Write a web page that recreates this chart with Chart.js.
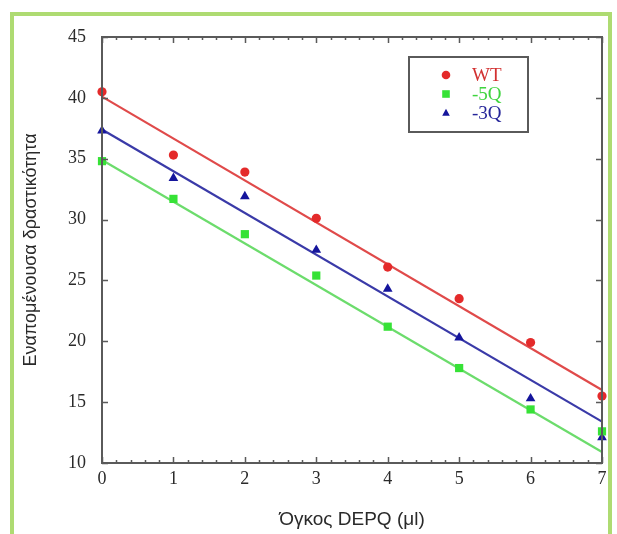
<!DOCTYPE html>
<html><head><meta charset="utf-8">
<script src="https://cdn.jsdelivr.net/npm/chart.js@4/dist/chart.umd.min.js"></script>
<style>html,body{margin:0;padding:0;background:#fff}#wrap{width:617px;height:534px;position:relative}canvas{display:block}</style>
</head><body><div id="wrap"><canvas id="c" width="617" height="534"></canvas></div>
<script>
// ---- data ----
const xValues  = [0, 1, 2, 3, 4, 5, 6, 7];
const wtValues = [40.5, 35.3, 33.9, 30.1, 26.1, 23.5, 19.9, 15.5];
const q5Values = [34.8, 31.7, 28.8, 25.4, 21.2, 17.8, 14.4, 12.6];
const q3Values = [37.3, 33.4, 31.9, 27.5, 24.3, 20.3, 15.3, 12.1];
// fitted straight lines (endpoints)
const fitX  = [0, 7];
const wtFit = [40.1, 16.0];
const q5Fit = [34.9, 10.9];
const q3Fit = [37.4, 13.4];
const seriesNames = ['WT', '-5Q', '-3Q'];
const xTitle = 'Όγκος DEPQ (μl)';
const yTitle = 'Εναπομένουσα δραστικότητα';
const xTickValues = [0, 1, 2, 3, 4, 5, 6, 7];
const yTickValues = [10, 15, 20, 25, 30, 35, 40, 45];

const C = {
  wtPt: '#e42a2a', wtLine: '#e04a4a', wtText: '#d23030',
  q5Pt: '#36e236', q5Line: '#6cdc6c', q5Text: '#3fd43f',
  q3Pt: '#15159c', q3Line: '#3a3aa8', q3Text: '#26269a'
};

const pts = (xs, ys) => xs.map((x, i) => ({x: x, y: ys[i]}));

const frame = {
  id: 'frame',
  beforeDraw(chart) {
    const ctx = chart.ctx;
    ctx.save();
    ctx.fillStyle = '#ffffff';
    ctx.fillRect(0, 0, chart.width, chart.height);
    ctx.strokeStyle = '#aedb72';
    ctx.lineWidth = 4;
    ctx.strokeRect(12, 14, 598, 540);
    ctx.restore();
  }
};

const axesBox = {
  id: 'axesBox',
  afterDatasetsDraw(chart) {
    const ctx = chart.ctx, a = chart.chartArea;
    const xs = chart.scales.x, ys = chart.scales.y;
    ctx.save();
    ctx.strokeStyle = '#5a5a5a';
    ctx.lineWidth = 2;
    ctx.strokeRect(a.left, a.top, a.right - a.left, a.bottom - a.top);
    ctx.lineWidth = 1.5;
    ctx.beginPath();
    for (let k = 0; k <= 35; k++) {
      const v = k / 5;
      const px = Math.round(xs.getPixelForValue(v)) + 0.5;
      const len = (k % 5 === 0) ? 6 : 3;
      ctx.moveTo(px, a.bottom); ctx.lineTo(px, a.bottom - len);
      ctx.moveTo(px, a.top); ctx.lineTo(px, a.top + len);
    }
    yTickValues.forEach(v => {
      const py = Math.round(ys.getPixelForValue(v)) + 0.5;
      ctx.moveTo(a.left, py); ctx.lineTo(a.left + 6, py);
      ctx.moveTo(a.right, py); ctx.lineTo(a.right - 6, py);
    });
    ctx.stroke();
    ctx.restore();
  }
};

function marker(ctx, style, x, y, r, color) {
  ctx.fillStyle = color;
  ctx.beginPath();
  if (style === 'circle') {
    ctx.arc(x, y, r, 0, Math.PI * 2);
  } else if (style === 'rect') {
    ctx.rect(x - r, y - r, 2 * r, 2 * r);
  } else {
    ctx.moveTo(x, y - r * 1.1);
    ctx.lineTo(x + r, y + r * 0.7);
    ctx.lineTo(x - r, y + r * 0.7);
    ctx.closePath();
  }
  ctx.fill();
}

const legendBox = {
  id: 'legendBox',
  afterDraw(chart) {
    const ctx = chart.ctx;
    ctx.save();
    ctx.strokeStyle = '#5a5a5a';
    ctx.lineWidth = 2;
    ctx.strokeRect(409, 57, 119, 75);
    const styles = ['circle', 'rect', 'triangle'];
    const mcol = [C.wtPt, C.q5Pt, C.q3Pt];
    const tcol = [C.wtText, C.q5Text, C.q3Text];
    const rows = [75, 94, 113];
    ctx.font = '19px "Liberation Serif", "Times New Roman", serif';
    ctx.textBaseline = 'middle';
    ctx.textAlign = 'left';
    seriesNames.forEach((n, i) => {
      marker(ctx, styles[i], 446, rows[i], i === 0 ? 4.3 : 3.8, mcol[i]);
      ctx.fillStyle = tcol[i];
      ctx.fillText(n, 472, rows[i] + 1);
    });
    ctx.restore();
  }
};

const tickFont = {family: '"Liberation Serif", "Times New Roman", serif', size: 18};

new Chart(document.getElementById('c'), {
  type: 'scatter',
  data: {
    datasets: [
      {label: seriesNames[0], data: pts(xValues, wtValues), showLine: false, pointStyle: 'circle', pointRadius: 4.6, pointHoverRadius: 4.6, backgroundColor: C.wtPt, borderWidth: 0, clip: false, order: 1},
      {label: seriesNames[1], data: pts(xValues, q5Values), showLine: false, pointStyle: 'rect', pointRadius: 5.8, pointHoverRadius: 5.8, backgroundColor: C.q5Pt, borderWidth: 0, clip: false, order: 1},
      {label: seriesNames[2], data: pts(xValues, q3Values), showLine: false, pointStyle: 'triangle', pointRadius: 5.6, pointHoverRadius: 5.6, backgroundColor: C.q3Pt, borderWidth: 0, clip: false, order: 1},
      {label: 'WT fit', data: pts(fitX, wtFit), showLine: true, pointRadius: 0, borderColor: C.wtLine, borderWidth: 2.2, clip: false, order: 2},
      {label: '-5Q fit', data: pts(fitX, q5Fit), showLine: true, pointRadius: 0, borderColor: C.q5Line, borderWidth: 2.2, clip: false, order: 2},
      {label: '-3Q fit', data: pts(fitX, q3Fit), showLine: true, pointRadius: 0, borderColor: C.q3Line, borderWidth: 2.2, clip: false, order: 2}
    ]
  },
  options: {
    responsive: false,
    animation: false,
    events: [],
    layout: {padding: {top: 37, right: 15, left: 0, bottom: 0}},
    plugins: {legend: {display: false}, tooltip: {enabled: false}},
    scales: {
      x: {
        type: 'linear', min: 0, max: 7,
        afterBuildTicks: s => { s.ticks = xTickValues.map(v => ({value: v})); },
        afterFit: s => { s.height = 71; },
        grid: {display: false, drawTicks: false},
        border: {display: false},
        ticks: {font: tickFont, color: '#2a2a2a', padding: 5, maxRotation: 0},
        title: {display: true, text: xTitle, font: {family: '"Liberation Sans", Arial, sans-serif', size: 19}, color: '#2a2a2a', padding: {top: 0, bottom: 3}}
      },
      y: {
        type: 'linear', min: 10, max: 45,
        afterBuildTicks: s => { s.ticks = yTickValues.map(v => ({value: v})); },
        afterFit: s => { s.width = 102; },
        grid: {display: false, drawTicks: false},
        border: {display: false},
        ticks: {font: tickFont, color: '#2a2a2a', padding: 16},
        title: {display: true, text: yTitle, font: {family: '"Liberation Sans", Arial, sans-serif', size: 18}, color: '#2a2a2a', padding: {top: 20, bottom: 0}}
      }
    }
  },
  plugins: [frame, axesBox, legendBox]
});
</script>
</body></html>
